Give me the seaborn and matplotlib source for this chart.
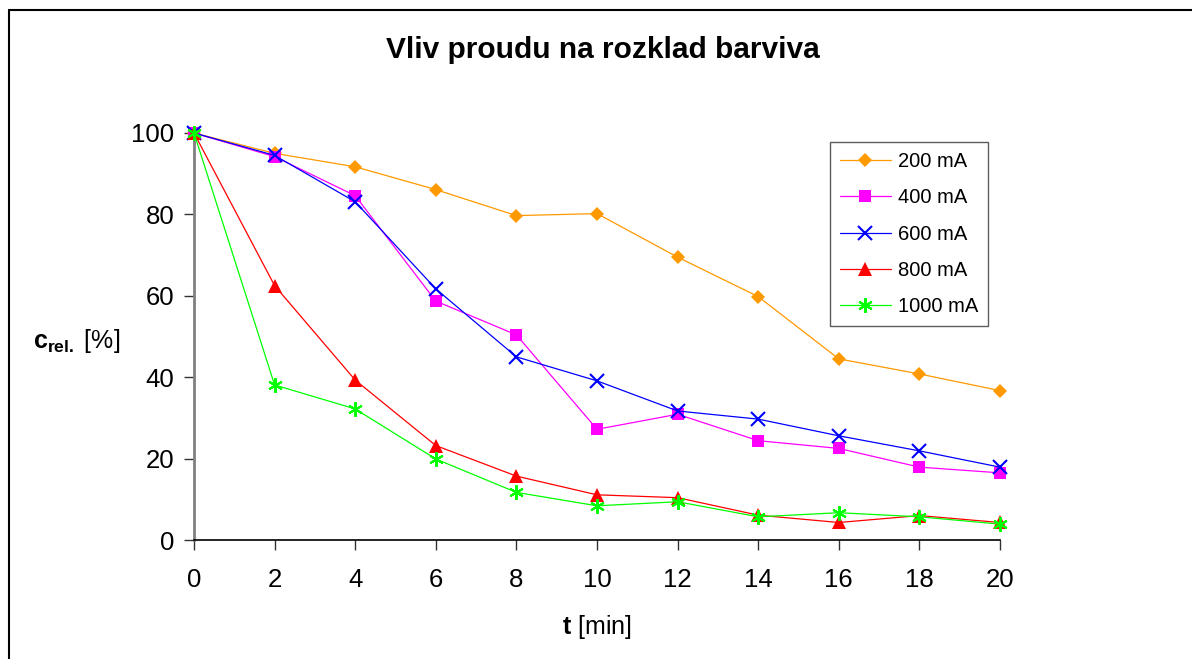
import matplotlib
matplotlib.use("Agg")
import matplotlib.pyplot as plt
from matplotlib.lines import Line2D
import seaborn as sns
import pandas as pd

# Time of electrolysis [min]
t_min = [0, 2, 4, 6, 8, 10, 12, 14, 16, 18, 20]

# Relative dye concentration [%] for each applied current
c_200 = [100, 95.0, 91.7, 86.1, 79.7, 80.2, 69.5, 59.8, 44.5, 40.8, 36.7]
c_400 = [100, 94.2, 84.6, 58.7, 50.4, 27.2, 30.9, 24.4, 22.5, 17.9, 16.5]
c_600 = [100, 94.5, 83.1, 61.7, 45.0, 39.1, 31.7, 29.7, 25.6, 21.9, 17.9]
c_800 = [100, 62.5, 39.3, 23.2, 15.7, 11.1, 10.4, 6.1, 4.3, 6.0, 4.3]
c_1000 = [100, 38.1, 32.2, 19.9, 11.7, 8.4, 9.4, 5.7, 6.7, 5.7, 3.9]

labels = ["200 mA", "400 mA", "600 mA", "800 mA", "1000 mA"]
series = [c_200, c_400, c_600, c_800, c_1000]
x_ticks = [0, 2, 4, 6, 8, 10, 12, 14, 16, 18, 20]
y_ticks = [0, 20, 40, 60, 80, 100]

sns.set_theme(style="white")
plt.rcParams["font.family"] = ["Liberation Sans", "DejaVu Sans"]
plt.rcParams["mathtext.fontset"] = "custom"
plt.rcParams["mathtext.rm"] = "Liberation Sans"
plt.rcParams["mathtext.bf"] = "Liberation Sans:bold"
plt.rcParams["mathtext.it"] = "Liberation Sans:italic"
plt.rcParams["text.color"] = "black"
plt.rcParams["axes.labelcolor"] = "black"
plt.rcParams["xtick.color"] = "black"
plt.rcParams["ytick.color"] = "black"

styles = {
    "200 mA": dict(color="#FF9900", marker="D", ms=7.2, mew=0),
    "400 mA": dict(color="#FF00FF", marker="s", ms=8.5, mew=0),
    "600 mA": dict(color="#0000FF", marker="x", ms=9.5, mew=1.5),
    "800 mA": dict(color="#FF0000", marker="^", ms=9.5, mew=0),
    "1000 mA": dict(color="#00FF00", marker=(6, 2, 0), ms=10.5, mew=1.5),
}

df = pd.DataFrame({"t": t_min * len(labels),
                   "c": sum(series, []),
                   "proud": [lab for lab in labels for _ in t_min]})

fig = plt.figure(figsize=(11.92, 6.59), dpi=100)
ax = fig.add_axes([194 / 1192, 1 - 540 / 659, 806 / 1192, 407 / 659])

for lab in labels:
    st = styles[lab]
    sub = df[df["proud"] == lab]
    sns.lineplot(data=sub, x="t", y="c", ax=ax, color=st["color"],
                 marker=st["marker"], markersize=st["ms"],
                 markeredgewidth=st["mew"], markeredgecolor=st["color"],
                 markerfacecolor=st["color"], linewidth=0.9, label=lab,
                 clip_on=False, zorder=3)

ax.set_xlim(0, 20)
ax.set_ylim(0, 100)
ax.set_xticks(x_ticks)
ax.set_yticks(y_ticks)
ax.tick_params(axis="both", labelsize=18.5, direction="out", length=7,
               width=1, color="#333333", labelcolor="black", left=True,
               bottom=True)
ax.tick_params(axis="y", pad=7)
ax.tick_params(axis="x", pad=13)

for side in ("top", "right"):
    ax.spines[side].set_visible(False)
ax.spines["left"].set_color("#808080")
ax.spines["left"].set_linewidth(2)
ax.spines["bottom"].set_color("black")
ax.spines["bottom"].set_linewidth(1.2)

ax.set_xlabel(r"$\mathbf{t}$ [min]", fontsize=18)
ax.xaxis.set_label_coords(0.5, -0.18)
ax.set_ylabel(r"$\mathbf{c}_{\mathbf{rel.}}$ [%]", fontsize=18, rotation=0,
              ha="center", va="center")
ax.yaxis.set_label_coords(-0.146, 0.49)

fig.text(0.506, 1 - 50 / 659, "Vliv proudu na rozklad barviva",
         ha="center", va="center", fontsize=21.5, fontweight="bold")

leg = ax.legend(loc="upper right", bbox_to_anchor=(0.985, 0.978),
                borderaxespad=0, fontsize=14.5, frameon=True, fancybox=False,
                shadow=False, labelspacing=0.86, handlelength=2.5,
                handletextpad=0.35, borderpad=0.5)
leg.get_frame().set_edgecolor("#333333")
leg.get_frame().set_linewidth(1.0)

# page-style border on the top and left edges
fig.add_artist(Line2D([9 / 1192, 9 / 1192], [0, 1 - 10 / 659],
                      transform=fig.transFigure, color="black", lw=1.5))
fig.add_artist(Line2D([9 / 1192, 1], [1 - 10 / 659, 1 - 10 / 659],
                      transform=fig.transFigure, color="black", lw=1.5))

fig.savefig("out.png", dpi=100, facecolor="white")
